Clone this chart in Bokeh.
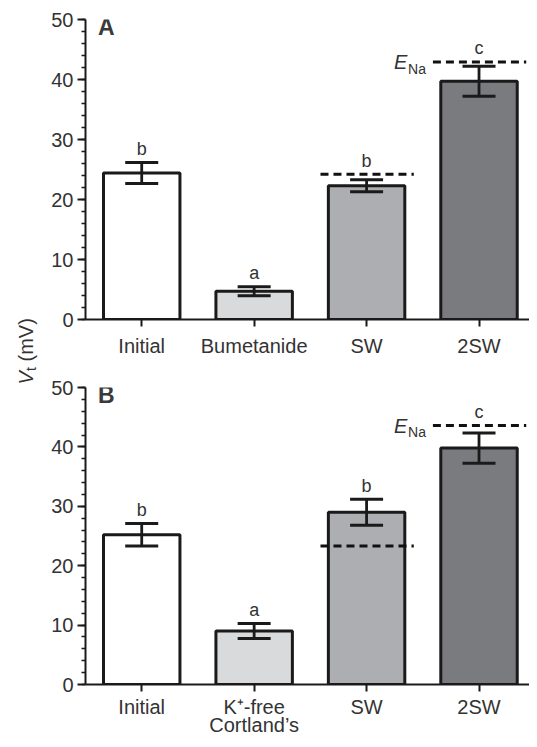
import math
from bokeh.plotting import figure
from bokeh.models import (Range1d, FixedTicker, SingleIntervalTicker, Whisker,
                          TeeHead, ColumnDataSource)
from bokeh.layouts import row, column
from bokeh.core.properties import value
from bokeh.embed import file_html
from bokeh.resources import INLINE

# ---------------- data ----------------
categories_A = ["Initial", "Bumetanide", "SW", "2SW"]
means_A = [24.4, 4.7, 22.3, 39.7]
sem_A = [1.75, 0.75, 1.0, 2.5]
letters_A = ["b", "a", "b", "c"]
dash_idx_A = [3, 4]
dash_vals_A = [24.2, 42.9]

categories_B = ["Initial", "K\u207a-free\nCortland\u2019s", "SW", "2SW"]
means_B = [25.2, 9.0, 29.0, 39.8]
sem_B = [1.9, 1.25, 2.2, 2.55]
letters_B = ["b", "a", "b", "c"]
dash_idx_B = [3, 4]
dash_vals_B = [23.3, 43.6]

bar_colors = ["#ffffff", "#d9dadc", "#adaeb1", "#7a7b7f"]

FONT = "Liberation Sans"
TEXT_COL = "#333333"
LINE_COL = "#1a1a1a"
PX_PER_X = 112.43   # px per category unit
PX_PER_Y = 6.0      # px per mV
LABEL_W = 40
TOTAL_W = 529
TOTAL_H = 739


def make_panel(cats, means, sems, letters, dash_idx, dash_vals, tag, height, top,
               bottom, standoff, line_h):
    p = figure(width=TOTAL_W - LABEL_W, height=height, x_range=Range1d(0.5, 4.449),
               y_range=Range1d(0, 50), output_backend="svg", toolbar_location=None,
               min_border_left=85 - LABEL_W, min_border_right=0, min_border_top=top,
               min_border_bottom=bottom)
    p.outline_line_color = None
    p.grid.visible = False
    p.background_fill_color = "white"
    p.border_fill_color = "white"

    xs = [i + 1 for i in range(len(cats))]
    src = ColumnDataSource(dict(x=xs, top=means,
                                upper=[m + s for m, s in zip(means, sems)],
                                lower=[m - s for m, s in zip(means, sems)],
                                color=bar_colors))
    p.vbar(x="x", top="top", bottom=0, width=0.68, source=src, fill_color="color",
           line_color=LINE_COL, line_width=3)

    w = Whisker(base="x", upper="upper", lower="lower", source=src,
                line_color=LINE_COL, line_width=2.8, level="overlay",
                upper_head=TeeHead(size=33, line_width=3, line_color=LINE_COL),
                lower_head=TeeHead(size=33, line_width=3, line_color=LINE_COL))
    p.add_layout(w)

    # dashed reference lines
    p.segment(x0=[i - 0.41 for i in dash_idx], x1=[i + 0.42 for i in dash_idx],
              y0=dash_vals, y1=dash_vals, line_color="#111111", line_width=3,
              line_dash="8 5")

    # significance letters
    dash_map = dict(zip(dash_idx, dash_vals))
    ly = []
    for i, (m, s) in enumerate(zip(means, sems)):
        t = m + s
        if (i + 1) in dash_map:
            t = max(t, dash_map[i + 1])
        ly.append(t + 2.3)
    p.text(x=xs, y=ly, text=letters, text_align="center", text_baseline="middle",
           text_font=value(FONT), text_font_size="18px", text_color=TEXT_COL)

    # E_Na label near the last dashed line
    ex = dash_idx[-1] - 0.41
    ey = dash_vals[-1]
    na_x = ex - 7 / PX_PER_X
    p.text(x=[na_x], y=[ey - 6.5 / PX_PER_Y], text=["Na"], text_align="right",
           text_baseline="middle", text_font=value(FONT), text_font_size="14px",
           text_color=TEXT_COL)
    p.text(x=[na_x - 18.5 / PX_PER_X], y=[ey], text=["E"], text_align="right",
           text_baseline="middle", text_font=value(FONT), text_font_size="20px",
           text_font_style="italic", text_color=TEXT_COL)

    # panel tag
    p.text(x=[0.611], y=[48.7], text=[tag], text_align="left",
           text_baseline="middle", text_font=value(FONT), text_font_size="23px",
           text_font_style="bold", text_color="#3a3a3a")

    # axes
    ya = p.yaxis[0]
    ya.ticker = SingleIntervalTicker(interval=10, num_minor_ticks=5)
    ya.axis_line_width = 2
    ya.axis_line_color = LINE_COL
    ya.major_tick_line_width = 2
    ya.major_tick_line_color = LINE_COL
    ya.minor_tick_line_width = 1.5
    ya.minor_tick_line_color = LINE_COL
    ya.major_tick_out = 8
    ya.major_tick_in = 0
    ya.minor_tick_out = 4
    ya.minor_tick_in = 0
    ya.major_label_standoff = 4
    ya.major_label_text_font = FONT
    ya.major_label_text_font_size = "20px"
    ya.major_label_text_color = TEXT_COL

    xa = p.xaxis[0]
    xa.ticker = FixedTicker(ticks=xs, minor_ticks=[])
    xa.major_label_overrides = {x: c for x, c in zip(xs, cats)}
    xa.axis_line_width = 2
    xa.axis_line_color = LINE_COL
    xa.major_tick_line_width = 2
    xa.major_tick_line_color = LINE_COL
    xa.major_tick_out = 7
    xa.major_tick_in = 0
    xa.minor_tick_line_color = None
    xa.major_label_standoff = standoff
    xa.major_label_text_font = FONT
    xa.major_label_text_font_size = "20px"
    xa.major_label_text_color = TEXT_COL
    xa.major_label_text_line_height = line_h
    return p


pA = make_panel(categories_A, means_A, sem_A, letters_A, dash_idx_A, dash_vals_A,
                "A", 370, 19, 51, 8, 0.95)
pB = make_panel(categories_B, means_B, sem_B, letters_B, dash_idx_B, dash_vals_B,
                "B", TOTAL_H - 370, 17, 54, 4, 0.85)

# shared y-axis title (rotated), composed of italic V, subscript t and "(mV)"
pl = figure(width=LABEL_W, height=TOTAL_H, x_range=Range1d(0, LABEL_W),
            y_range=Range1d(0, TOTAL_H), output_backend="svg", toolbar_location=None,
            min_border=0, x_axis_location=None, y_axis_location=None)
pl.grid.visible = False
pl.outline_line_color = None
rot = math.pi / 2
pl.text(x=[25], y=[355], text=["V"], angle=rot, text_align="left",
        text_baseline="middle", text_font=value(FONT), text_font_size="20px",
        text_font_style="italic", text_color=TEXT_COL)
pl.text(x=[30], y=[368.5], text=["t"], angle=rot, text_align="left",
        text_baseline="middle", text_font=value(FONT), text_font_size="14px",
        text_color=TEXT_COL)
pl.text(x=[25], y=[378], text=["(mV)"], angle=rot, text_align="left",
        text_baseline="middle", text_font=value(FONT), text_font_size="20px",
        text_color=TEXT_COL)

layout = row(pl, column(pA, pB))
open("out.html", "w").write(file_html(layout, INLINE))
